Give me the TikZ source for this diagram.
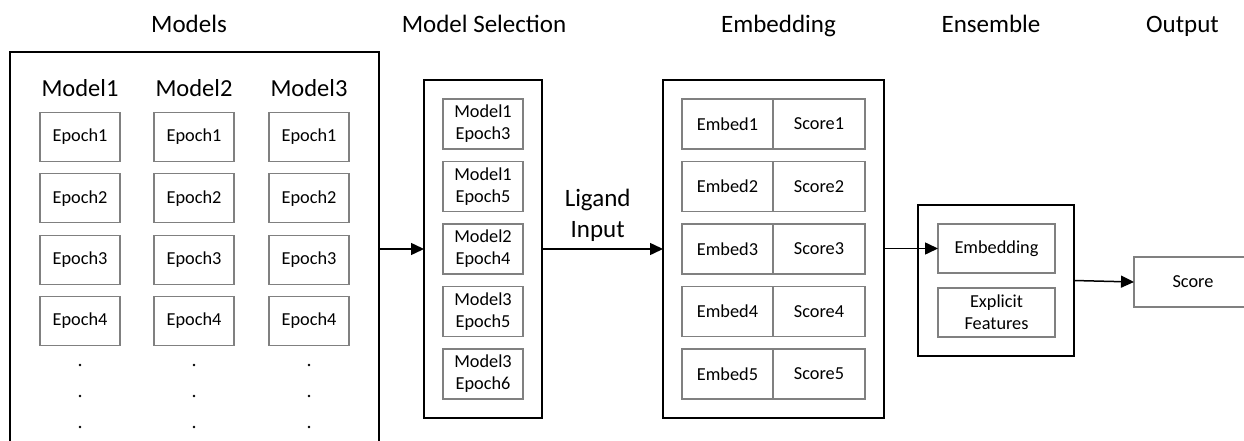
\documentclass[tikz,border=0pt]{standalone}
\usepackage{fontspec}
\setmainfont{Carlito}
\usetikzlibrary{arrows.meta}
\colorlet{box edge}{black!50}
\colorlet{frame edge}{black}
\tikzset{outer/.style={draw=frame edge, line width=1.5pt, inner sep=0pt, outer sep=0pt},
	inner/.style={draw=box edge, line width=1.1pt, inner sep=0pt, outer sep=0pt, minimum height=49pt, align=center, font=\fontsize{18.3}{22}\selectfont},
	title/.style={anchor=base, font=\fontsize{25}{31}\selectfont},
	arr/.style={draw=frame edge, line width=1.5pt, -{Triangle[length=13pt,width=12pt]}}}

\begin{document}
\begin{tikzpicture}[x=1pt,y=-1pt]
		\useasboundingbox (0,0) rectangle (1244,441);
		% headings
		\node[title] (t-models) at (189,33) {Models};
		\node[title] (t-sel) at (484,33) {Model Selection};
		\node[title] (t-emb) at (778.5,33) {Embedding};
		\node[title] (t-ens) at (991,33) {Ensemble};
		\node[title] (t-out) at (1182.5,33) {Output};
		
		% models and their epochs
		\node[outer, minimum width=369pt, minimum height=408pt] (models) at (194.5,256) {};
		\foreach \c/\x in {1/80,2/194,3/309} {
			\node[anchor=base, font=\fontsize{24.5}{30}\selectfont] (m-\c) at (\x,97) {Model\c};
			\foreach \r in {1,...,4}
				\node[inner, minimum width=80pt] (ep-\c-\r) at (\x,{137+61.3*(\r-1)}) {Epoch\r};
			\foreach \d in {365,396,427}
				\fill (\x,\d) circle (1.3pt);
		}
		
		% selected models
		\node[outer, minimum width=118pt, minimum height=338pt] (msel) at (483,249) {};
		\foreach \m/\e [count=\i] in {1/3,1/5,2/4,3/5,3/6}
			\node[inner, minimum width=80pt, minimum height=50pt] (sel-\i) at (483,{124+62.5*(\i-1)}) {Model\m\\Epoch\e};
		
		% embeddings
		\node[outer, minimum width=221pt, minimum height=338pt] (emb) at (773.5,249) {};
		\foreach \i in {1,...,5} {
			\node[inner, minimum width=91pt, minimum height=50pt] (ebd-\i) at (727.5,{124+62.5*(\i-1)}) {Embed\i};
			\node[inner, minimum width=92pt, minimum height=50pt] (sc-\i) at (819,{124+62.5*(\i-1)}) {Score\i};
		}
		
		% ensemble
		\node[outer, minimum width=156pt, minimum height=151pt] (ens) at (996,280.5) {};
		\node[inner, minimum width=117pt] (ens-emb) at (996.5,248.5) {Embedding};
		\node[inner, minimum width=117pt] (ens-feat) at (996.5,312.5) {Explicit\\Features};
		
		\node[inner, minimum width=118pt, minimum height=50pt] (score) at (1193,282) {Score};
		
		\draw[arr] (models.east |- msel.west) -- (msel.west);
		\draw[arr] (msel.east) -- node[pos=0.46, above=3pt, align=center, font=\fontsize{25}{31}\selectfont] (lig) {Ligand\\Input} (emb.west);
		\draw[arr] (emb.east |- ens-emb.west) -- (ens-emb.west);
		\draw[arr] (ens.east) -- (score.west);
		\end{tikzpicture}
\end{document}
